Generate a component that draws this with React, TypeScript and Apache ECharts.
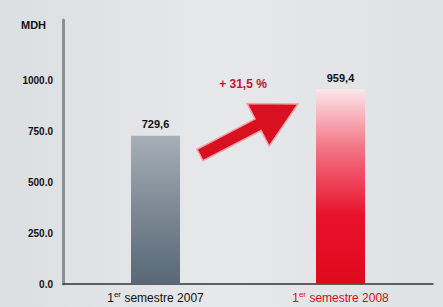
import React, { useEffect, useRef } from "react";
import * as echarts from "echarts";

const categories = ["1er semestre 2007", "1er semestre 2008"];
const values = [729.6, 959.4];
const valueLabels = ["729,6", "959,4"];
const growthLabel = "+ 31,5 %";
const unitLabel = "MDH";
const yTicks = [0, 250, 500, 750, 1000];

export default function App() {
  const ref = useRef<HTMLDivElement>(null);
  useEffect(() => {
    if (!ref.current) return;
    const chart = echarts.init(ref.current, null, { renderer: "svg" });
    const font = "'Liberation Sans', Arial, sans-serif";
    const grayGrad = new echarts.graphic.LinearGradient(0, 0, 0, 1, [
      { offset: 0, color: "#a7afb7" },
      { offset: 0.5, color: "#7d8995" },
      { offset: 1, color: "#586876" },
    ]);
    const redGrad = new echarts.graphic.LinearGradient(0, 0, 0, 1, [
      { offset: 0, color: "#fde6ea" },
      { offset: 0.3, color: "#f27585" },
      { offset: 0.65, color: "#e8112c" },
      { offset: 1, color: "#e00a1d" },
    ]);
    // arrow geometry
    const T = [200, 155];
    const P = [298, 104];
    const dx = P[0] - T[0], dy = P[1] - T[1];
    const len = Math.sqrt(dx * dx + dy * dy);
    const u = [dx / len, dy / len];
    const n = [-u[1], u[0]];
    const sw = 6.5, hw = 24, hl = 45;
    const B = [P[0] - hl * u[0], P[1] - hl * u[1]];
    const arrowPts = [
      [T[0] + n[0] * sw, T[1] + n[1] * sw],
      [T[0] - n[0] * sw, T[1] - n[1] * sw],
      [B[0] - n[0] * sw, B[1] - n[1] * sw],
      [B[0] - n[0] * hw, B[1] - n[1] * hw],
      [P[0], P[1]],
      [B[0] + n[0] * hw, B[1] + n[1] * hw],
      [B[0] + n[0] * sw, B[1] + n[1] * sw],
    ];
    const catRich = (c: string, col: string) => {
      const rest = c.slice(3);
      return `{a${col}|1}{s${col}|er}{a${col}|${rest}}`;
    };
    chart.setOption({
      animation: false,
      backgroundColor: new echarts.graphic.LinearGradient(0, 0, 1, 0, [
        { offset: 0, color: "#dcdfe2" },
        { offset: 0.5, color: "#e6e8ea" },
        { offset: 1, color: "#dfe2e5" },
      ]),
      grid: { left: 63, right: 10, top: 20, bottom: 23 },
      xAxis: {
        type: "category",
        data: categories,
        axisLine: { lineStyle: { color: "#333", width: 1.5 } },
        axisTick: { show: false },
        axisLabel: {
          interval: 0,
          margin: 6,
          formatter: (v: string, i: number) => catRich(v, i === 0 ? "k" : "r"),
          rich: {
            ak: { color: "#111", fontSize: 12, fontFamily: font },
            sk: { color: "#111", fontSize: 8, fontFamily: font, padding: [0, 0, 7, 0] },
            ar: { color: "#e30613", fontSize: 12, fontFamily: font },
            sr: { color: "#e30613", fontSize: 8, fontFamily: font, padding: [0, 0, 7, 0] },
          },
        },
      },
      yAxis: {
        type: "value",
        min: 0,
        max: 1300,
        interval: 250,
        splitLine: { show: false },
        axisLine: { show: true, lineStyle: { color: "#8a9096", width: 3 } },
        axisTick: { show: false },
        axisLabel: {
          margin: 10,
          color: "#111",
          fontSize: 10,
          fontWeight: "bold",
          fontFamily: font,
          showMaxLabel: false,
          formatter: (v: number) => (yTicks.includes(v) ? v.toFixed(1) : ""),
        },
      },
      series: [
        {
          type: "bar",
          barWidth: 49,
          data: values.map((v, i) => ({
            value: v,
            itemStyle: { color: i === 0 ? grayGrad : redGrad },
          })),
          label: {
            show: true,
            position: "top",
            distance: 6,
            color: "#111",
            fontSize: 11,
            fontWeight: "bold",
            fontFamily: font,
            formatter: (p: any) => valueLabels[p.dataIndex],
          },
        },
      ],
      graphic: [
        {
          type: "text",
          left: 21,
          top: 19,
          style: { text: unitLabel, fill: "#111", font: `bold 11px ${font}` },
        },
        {
          type: "text",
          x: 243,
          y: 84,
          style: {
            text: growthLabel,
            fill: "#c8122c",
            font: `bold 12px ${font}`,
            align: "center",
            verticalAlign: "middle",
          },
        },
        {
          type: "polygon",
          shape: { points: arrowPts },
          style: { fill: "#d8101f", stroke: "#f4a0a8", lineWidth: 1.5 },
        },
      ],
    });
    return () => chart.dispose();
  }, []);
  return (
    <div
      ref={ref}
      style={{ position: "fixed", left: 0, top: 0, width: 443, height: 307 }}
    />
  );
}
